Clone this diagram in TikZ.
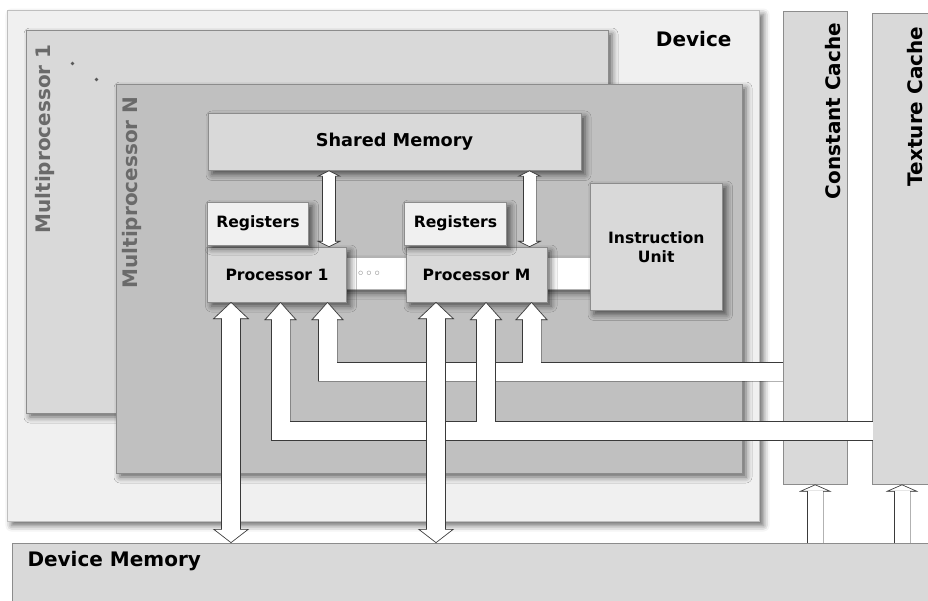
\documentclass[tikz,border=0pt]{standalone}
\usepackage{fontspec}
\setmainfont{DejaVu Sans}
\usepackage{tikz}
\usetikzlibrary{
    arrows.meta,
    positioning,
    calc,
    shadows.blur
}

\definecolor{devfill}{HTML}{F0F0F0}
\definecolor{blockfill}{HTML}{D9D9D9}
\definecolor{mpnfill}{HTML}{C0C0C0}
\definecolor{edge}{HTML}{8C8C8C}
\definecolor{pipeedge}{HTML}{3A3A3A}
\definecolor{mplabel}{HTML}{6A6A6A}

\newcommand{\lgtxt}{\fontsize{20pt}{24pt}\selectfont\bfseries}
\newcommand{\mdtxt}{\fontsize{17.7pt}{21pt}\selectfont\bfseries}
\newcommand{\smtxt}{\fontsize{15.6pt}{19pt}\selectfont\bfseries}

\begin{document}
\begin{tikzpicture}[
    x=1pt, y=-1pt,
    box/.style={rectangle, draw=edge, line width=0.7pt, fill=blockfill,
                inner sep=0pt, outer sep=0pt, anchor=north west,
                align=center, font=\smtxt},
    dropshade/.style={blur shadow={shadow xshift=4pt, shadow yshift=-4pt,
                      shadow blur radius=6pt, shadow opacity=60}},
    biglab/.style={font=\lgtxt},
    vlab/.style={rotate=90, anchor=base, font=\lgtxt},
    % block arrows: head length, head width, shaft width
    headsize/.code n args={3}{\def\hl{#1}\def\hw{#2}\def\sw{#3}},
    pshadow/.style={draw=black, opacity=0.3, line width=\sw+2pt,
                    shift={(4,4)}, arrows=-{Triangle[length=\hl, width=\hw]}},
    pline/.style={draw=pipeedge, line width=\sw+1.2pt, line join=miter,
                  arrows=-{Triangle[length=\hl, width=\hw, fill=white, line width=0.6pt]}},
    pfill/.style={draw=white, line width=\sw, line join=miter, shorten >=\hl-1pt}
]
\useasboundingbox (0,0) rectangle (928,601);
\clip (0,0) rectangle (928,601);

% =========================
% 1) DEVICE AND MULTIPROCESSORS
% =========================
\node[box, dropshade, fill=devfill, draw=black!25,
      minimum width=752pt, minimum height=511pt] (dev) at (7.5,10.5) {};
\node[biglab, anchor=base east] (devlbl) at (735,46.5) {Device};

\node[box, dropshade, minimum width=582pt, minimum height=383pt] (mp1) at (26,30) {};
\node[vlab, text=mplabel] (mp1lbl) at (50.5,139) {Multiprocessor 1};
\fill[black!65] (72.5,63.5) circle (1.9) (96.5,79.5) circle (1.9);

\node[box, dropshade, fill=mpnfill, minimum width=626pt, minimum height=389pt] (mpn) at (116,84) {};
\node[vlab, text=mplabel] (mpnlbl) at (137,192.5) {Multiprocessor N};

% =========================
% 2) INSIDE MULTIPROCESSOR N
% =========================
\node[box, dropshade, font=\mdtxt, minimum width=373pt, minimum height=57.5pt]
    (smem) at (208,113) {Shared Memory};

\node[box, dropshade, fill=white, draw=black!30,
      minimum width=270pt, minimum height=32pt] (bus) at (330,257) {};

\node[box, dropshade, minimum width=139pt, minimum height=55pt] (p1) at (207.5,247) {Processor 1};
\node[box, dropshade, fill=devfill, minimum width=101pt, minimum height=43pt,
      above=2pt of p1.north west, anchor=south west] (reg1) {Registers};

\node[box, dropshade, minimum width=141pt, minimum height=55pt,
      right=59.5pt of p1.north east, anchor=north west] (pm) {Processor M};
\node[box, dropshade, fill=devfill, minimum width=102pt, minimum height=43pt,
      above=2pt of pm.north west, anchor=south west, xshift=-1.5pt] (regm) {Registers};

\node[font=\fontsize{14pt}{14pt}\selectfont, text=black!55] (gap) at (369,274.5) {◦◦◦};

\node[box, dropshade, minimum width=132.5pt, minimum height=127.5pt]
    (iu) at (590,183) {Instruction\\Unit};

% =========================
% 3) CACHES AND DEVICE MEMORY
% =========================
\node[box, minimum width=64.5pt, minimum height=473.5pt] (ccache) at (783,11) {};
\node[vlab] (cclbl) at (840.5,111) {Constant Cache};
\node[box, minimum width=80pt, minimum height=471.5pt] (tcache) at (872.5,13) {};
\node[vlab] (tclbl) at (922.5,106.5) {Texture Cache};

\node[box, minimum width=930pt, minimum height=70pt] (dmem) at (12.5,543) {};
\node[biglab, anchor=base west] (dmemlbl) at (24,566.5) {Device Memory};

% =========================
% 4) BLOCK ARROWS
% =========================
\coordinate (sm1) at (329,209);
\coordinate (sm2) at (529.5,209);
\coordinate (cbend) at (327.5,371.5);
\coordinate (cfork) at (531.5,371.5);
\coordinate (tbend) at (280.5,431);
\coordinate (tfork) at (486,431);
\coordinate (dm1) at (231,420);
\coordinate (dm2) at (436,420);
\coordinate (tup) at (902,510);

% shared memory <-> processors
\foreach \lay in {pshadow,pline,pfill}{
    \foreach \m in {sm1,sm2}{
        \draw[headsize={6pt}{24pt}{12pt}, \lay] (\m) -- (\m |- smem.south);
        \draw[headsize={6pt}{24pt}{12pt}, \lay] (\m) -- (\m |- p1.north);
    }
}

% constant cache -> processors
\foreach \lay in {pshadow,pline,pfill}{
    \draw[headsize={18pt}{32pt}{18pt}, \lay] (ccache.west |- cbend) -| (p1.south -| cbend);
    \draw[headsize={18pt}{32pt}{18pt}, \lay] (cfork) -- (pm.south -| cfork);
}

% texture cache -> processors
\foreach \lay in {pshadow,pline,pfill}{
    \draw[headsize={18pt}{32pt}{18pt}, \lay] (tcache.west |- tbend) -| (p1.south -| tbend);
    \draw[headsize={18pt}{32pt}{18pt}, \lay] (tfork) -- (pm.south -| tfork);
}

% processors <-> device memory
\foreach \lay in {pshadow,pline,pfill}{
    \foreach \m in {dm1,dm2}{
        \draw[headsize={17pt}{36pt}{18pt}, \lay] (\m) -- (\m |- p1.south);
        \draw[headsize={14pt}{36pt}{18pt}, \lay] (\m) -- (\m |- dmem.north);
    }
}

% device memory -> caches
\foreach \lay in {pshadow,pline,pfill}{
    \draw[headsize={7pt}{32pt}{15pt}, \lay] (dmem.north -| ccache.south) -- (ccache.south);
    \draw[headsize={7pt}{32pt}{15pt}, \lay] (dmem.north -| tup) -- (tcache.south -| tup);
}

\end{tikzpicture}
\end{document}
